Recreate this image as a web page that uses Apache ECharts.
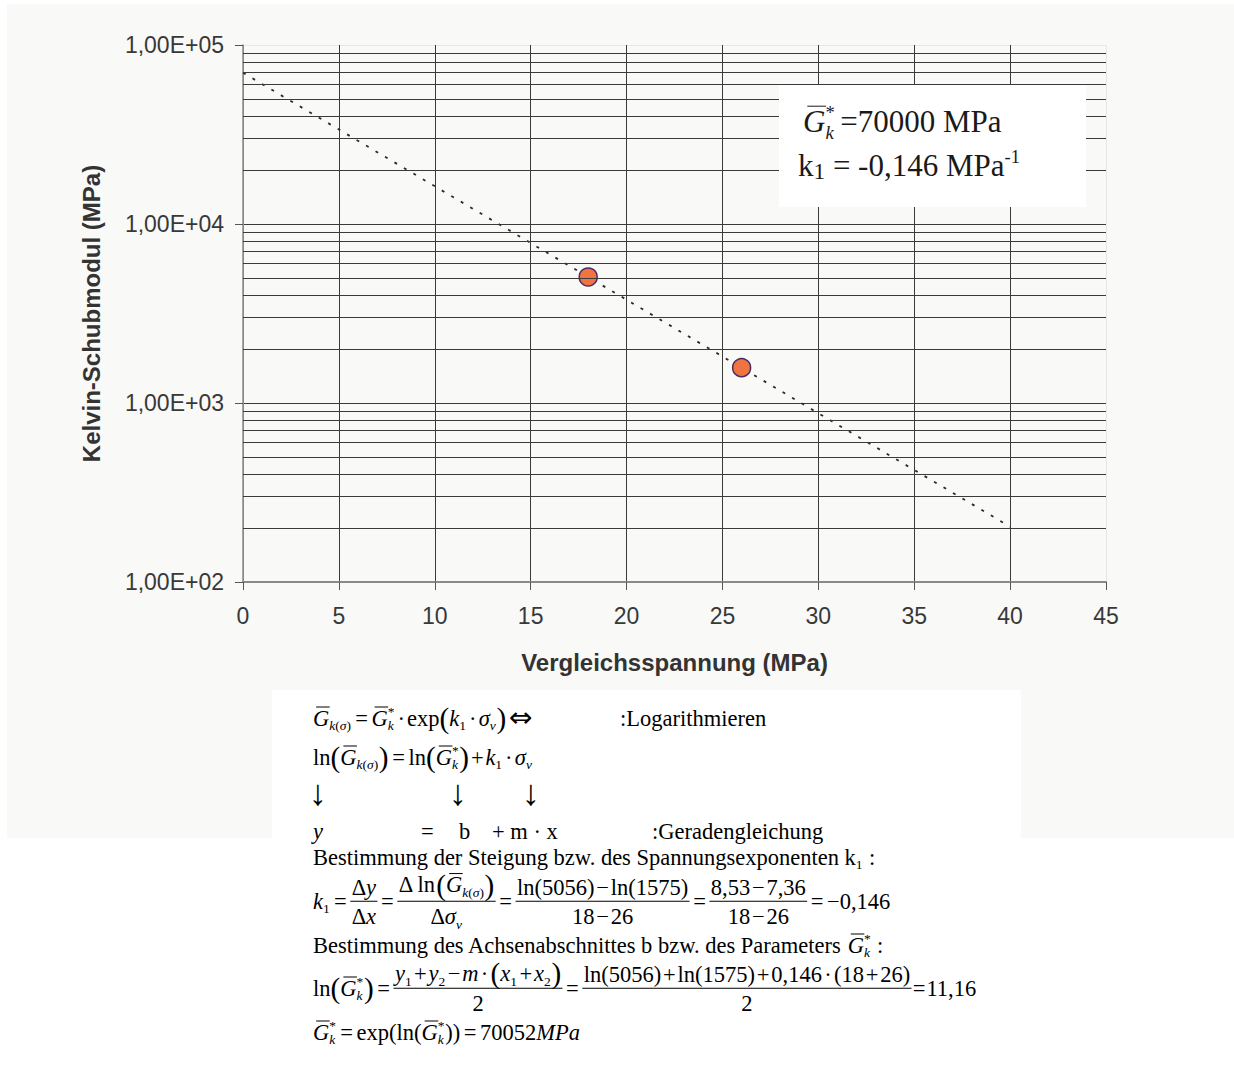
<!DOCTYPE html>
<html>
<head>
<meta charset="utf-8">
<script src="https://cdn.jsdelivr.net/npm/echarts@6/dist/echarts.min.js"></script>
<style>
  html, body { margin: 0; padding: 0; background: #ffffff; }
  #chart { width: 1234px; height: 1077px; }
</style>
</head>
<body>
<div id="chart"></div>
<script>
// Messwerte: Vergleichsspannung (MPa) und Kelvin-Schubmodul (MPa)
const stressMPa = [18, 26];
const kelvinModulusMPa = [5056, 1575];

// Parameter des exponentiellen Ansatzes G = G* · exp(k1 · σv)
const fitG = 70000;
const fitK1 = -0.146;
const trendStressRange = [0, 40];

// Achsenbeschriftungen
const yTickLabels = ['1,00E+02', '1,00E+03', '1,00E+04', '1,00E+05'];
const yDecades = [100, 1000, 10000];
const minorFactors = [2, 3, 4, 5, 6, 7, 8, 9];

const minorGridValues = [];
yDecades.forEach(d => minorFactors.forEach(f => minorGridValues.push(d * f)));

const scatterData = stressMPa.map((s, i) => [s, kelvinModulusMPa[i]]);
const trendData = trendStressRange.map(s => [s, fitG * Math.exp(fitK1 * s)]);

const SANS = '"Liberation Sans", Arial, sans-serif';
const SERIF = '"Liberation Serif", "Times New Roman", "DejaVu Serif", serif';
const INK = '#000000';

// ---- kleine Formelsatz-Hilfe (Text + Linien als Grafikelemente) ----
const measureCtx = document.createElement('canvas').getContext('2d');
function textWidth(t, font) { measureCtx.font = font; return measureCtx.measureText(t).width; }

const T = (t, o) => Object.assign({ t }, o || {});
const I = (t, o) => Object.assign({ t, i: true }, o || {});
const GAP = em => ({ gap: em });
const SS = (sup, sub) => ({ ss: [sup, sub] });
const FR = (num, den, lift) => ({ frac: [num, den], lift: lift || 0 });
const BIG = t => ({ t, s: 1.3, dy: 0.08 });
const Gbar = () => I('G', { ol: true });
const sigmaSub = [I('k'), T('('), I('σ'), T(')')];
const G_ks = () => [Gbar(), SS(null, sigmaSub)];
const G_star = () => [Gbar(), SS([T('*')], [I('k')])];
const EQ = () => [GAP(0.16), T('='), GAP(0.16)];
const OP = t => [GAP(0.08), T(t), GAP(0.08)];
const DOT = () => [GAP(0.1), T('·'), GAP(0.1)];

function layoutRow(segs, x0, base, size, out, color) {
  let x = x0;
  for (const g of segs) {
    if (g.gap !== undefined) { x += g.gap * size; continue; }
    if (g.ss) {
      const wSup = g.ss[0] ? layoutRow(g.ss[0], x, base - 0.42 * size, size * 0.6, out, color) : 0;
      const wSub = g.ss[1] ? layoutRow(g.ss[1], x, base + 0.22 * size, size * 0.6, out, color) : 0;
      x += Math.max(wSup, wSub) + 0.03 * size;
      continue;
    }
    if (g.frac) {
      const bar = base - 0.3 * size;
      const wn = layoutRow(g.frac[0], 0, 0, size, null, color);
      const wd = layoutRow(g.frac[1], 0, 0, size, null, color);
      const w = Math.max(wn, wd) + 0.12 * size;
      layoutRow(g.frac[0], x + (w - wn) / 2, bar - (0.33 + g.lift) * size, size, out, color);
      layoutRow(g.frac[1], x + (w - wd) / 2, bar + 0.98 * size, size, out, color);
      if (out) {
        out.push({ type: 'line', silent: true, z: 50,
          shape: { x1: x, y1: bar, x2: x + w, y2: bar },
          style: { stroke: color, lineWidth: 1 } });
      }
      x += w;
      continue;
    }
    const sz = size * (g.s || 1);
    const font = (g.i ? 'italic ' : '') + sz.toFixed(2) + 'px ' + (g.f || SERIF);
    const w = textWidth(g.t, font);
    const b = base + (g.dy || 0) * size;
    if (out) {
      out.push({ type: 'text', silent: true, z: 50, x: x, y: b - 0.3 * sz,
        style: { text: g.t, font: font, fill: color,
          align: 'left', verticalAlign: 'middle', textAlign: 'left', textVerticalAlign: 'middle' } });
      if (g.ol) {
        out.push({ type: 'line', silent: true, z: 50,
          shape: { x1: x + 0.14 * sz, y1: b - 0.8 * sz, x2: x + w + 0.02 * sz, y2: b - 0.8 * sz },
          style: { stroke: color, lineWidth: 1 } });
      }
    }
    x += w;
  }
  return x - x0;
}

const graphics = [];
// Hintergrundflächen
graphics.push({ type: 'rect', silent: true, z: -100, shape: { x: 7, y: 4, width: 1227, height: 834 }, style: { fill: '#f9f9f7' } });
graphics.push({ type: 'rect', silent: true, z: -90, shape: { x: 272, y: 690, width: 749, height: 387 }, style: { fill: '#ffffff' } });

// Ergebnisbox im Diagramm
graphics.push({ type: 'rect', silent: true, z: 40, shape: { x: 779, y: 85, width: 307, height: 122 }, style: { fill: '#ffffff' } });
const BOX = 31;
layoutRow([Gbar(), SS([T('*')], [I('k')]), GAP(0.15), T('=70000 MPa')], 803, 131, BOX, graphics, '#1a1a1a');
layoutRow([T('k'), T('1', { s: 0.75, dy: 0.08 }), T(' = -0,146 MPa'), SS([T('-1')], null)], 798, 175, BOX, graphics, '#1a1a1a');

// Herleitung unterhalb des Diagramms
const F = 22.5;
const X0 = 313;
const ARROW = { s: 1.6, dy: 0.12 };
const rows = [];
rows.push([725, X0, [...G_ks(), ...EQ(), ...G_star(), ...DOT(), T('exp'), BIG('('), I('k'), SS(null, [T('1')]), ...DOT(), I('σ'), SS(null, [I('v')]), BIG(')'), GAP(0.12), T('⇔', { s: 1.25, f: '"DejaVu Sans", sans-serif', dy: 0.02 })]]);
rows.push([725, 620, [T(':Logarithmieren')]]);
rows.push([764, X0, [T('ln'), BIG('('), ...G_ks(), BIG(')'), ...EQ(), T('ln'), BIG('('), ...G_star(), BIG(')'), ...OP('+'), I('k'), SS(null, [T('1')]), ...DOT(), I('σ'), SS(null, [I('v')])]]);
rows.push([801, 309, [T('↓', ARROW)]]);
rows.push([801, 449, [T('↓', ARROW)]]);
rows.push([801, 522, [T('↓', ARROW)]]);
rows.push([838, X0, [I('y')]]);
rows.push([838, 421, [T('=')]]);
rows.push([838, 459, [T('b')]]);
rows.push([838, 492, [T('+ m · x')]]);
rows.push([838, 652, [T(':Geradengleichung')]]);
rows.push([864, X0, [T('Bestimmung der Steigung bzw. des Spannungsexponenten k'), SS(null, [T('1')]), T(' :')]]);
rows.push([908, X0, [I('k'), SS(null, [T('1')]), ...EQ(),
  FR([T('Δ'), I('y')], [T('Δ'), I('x')]), ...EQ(),
  FR([T('Δ ln'), BIG('('), ...G_ks(), BIG(')')], [T('Δ'), I('σ'), SS(null, [I('v')])], 0.1), ...EQ(),
  FR([T('ln(5056)'), ...OP('−'), T('ln(1575)')], [T('18'), ...OP('−'), T('26')]), ...EQ(),
  FR([T('8,53'), ...OP('−'), T('7,36')], [T('18'), ...OP('−'), T('26')]), ...EQ(), T('−0,146')]]);
rows.push([952, X0, [T('Bestimmung des Achsenabschnittes b bzw. des Parameters '), ...G_star(), T(' :')]]);
rows.push([995, X0, [T('ln'), BIG('('), ...G_star(), BIG(')'), ...EQ(),
  FR([I('y'), SS(null, [T('1')]), ...OP('+'), I('y'), SS(null, [T('2')]), ...OP('−'), I('m'), ...DOT(), BIG('('), I('x'), SS(null, [T('1')]), ...OP('+'), I('x'), SS(null, [T('2')]), BIG(')')], [T('2')], 0.03), ...EQ(),
  FR([T('ln(5056)'), ...OP('+'), T('ln(1575)'), ...OP('+'), T('0,146'), ...DOT(), T('(18'), ...OP('+'), T('26)')], [T('2')]), GAP(0.05), T('='), GAP(0.05), T('11,16')]]);
rows.push([1039, X0, [...G_star(), ...EQ(), T('exp(ln('), ...G_star(), T('))'), ...EQ(), T('70052'), I('MPa')]]);
rows.forEach(r => layoutRow(r[2], r[1], r[0], F, graphics, INK));

const chart = echarts.init(document.getElementById('chart'), null, { renderer: 'svg' });

const option = {
  backgroundColor: '#ffffff',
  animation: false,
  grid: { left: 243, right: 128, top: 45, bottom: 495, show: false },
  xAxis: {
    type: 'value', min: 0, max: 45, interval: 5,
    name: 'Vergleichsspannung (MPa)', nameLocation: 'middle', nameGap: 68,
    nameTextStyle: { fontFamily: SANS, fontSize: 24, fontWeight: 'bold', color: '#333333' },
    axisLine: { show: true, onZero: false, lineStyle: { color: '#8a8a8a', width: 2 } },
    axisTick: { show: true, length: 8, lineStyle: { color: '#555555' } },
    axisLabel: { fontFamily: SANS, fontSize: 23, color: '#383838', margin: 22 },
    splitLine: { show: true, lineStyle: { width: 1, color: ['#8a8a8a', '#3a3a3a', '#3a3a3a', '#3a3a3a', '#3a3a3a', '#3a3a3a', '#3a3a3a', '#3a3a3a', '#3a3a3a', '#e6e6e6'] } }
  },
  yAxis: {
    type: 'log', logBase: 10, min: 100, max: 100000,
    name: 'Kelvin-Schubmodul (MPa)', nameLocation: 'middle', nameGap: 140, nameRotate: 90,
    nameTextStyle: { fontFamily: SANS, fontSize: 24, fontWeight: 'bold', color: '#333333' },
    axisLine: { show: true, lineStyle: { color: '#8a8a8a', width: 1.5 } },
    axisTick: { show: true, length: 8, lineStyle: { color: '#555555' } },
    axisLabel: { fontFamily: SANS, fontSize: 23, color: '#383838', margin: 19,
      formatter: v => yTickLabels[Math.round(Math.log10(v)) - 2] },
    splitLine: { show: true, lineStyle: { width: 1, color: ['#8a8a8a', '#3a3a3a', '#3a3a3a', '#e6e6e6'] } },
    minorTick: { show: false },
    minorSplitLine: { show: false }
  },
  series: [
    {
      name: 'Hilfslinien', type: 'line', data: [], z: 1, silent: true,
      markLine: {
        silent: true, symbol: ['none', 'none'], animation: false,
        label: { show: false },
        lineStyle: { color: '#3a3a3a', width: 1, type: 'solid' },
        data: minorGridValues.map(v => ({ yAxis: v }))
      }
    },
    {
      name: 'Trend', type: 'line', data: trendData, z: 3, silent: true,
      showSymbol: false, symbol: 'none',
      lineStyle: { color: '#2b2b2b', width: 1.8, type: [3, 8] }
    },
    {
      name: 'Messwerte', type: 'scatter', data: scatterData, z: 4,
      symbol: 'circle', symbolSize: 18,
      itemStyle: { color: '#f07342', borderColor: '#4b2c5e', borderWidth: 1.5, opacity: 1 }
    }
  ],
  graphic: { elements: graphics }
};

chart.setOption(option);
</script>
</body>
</html>
